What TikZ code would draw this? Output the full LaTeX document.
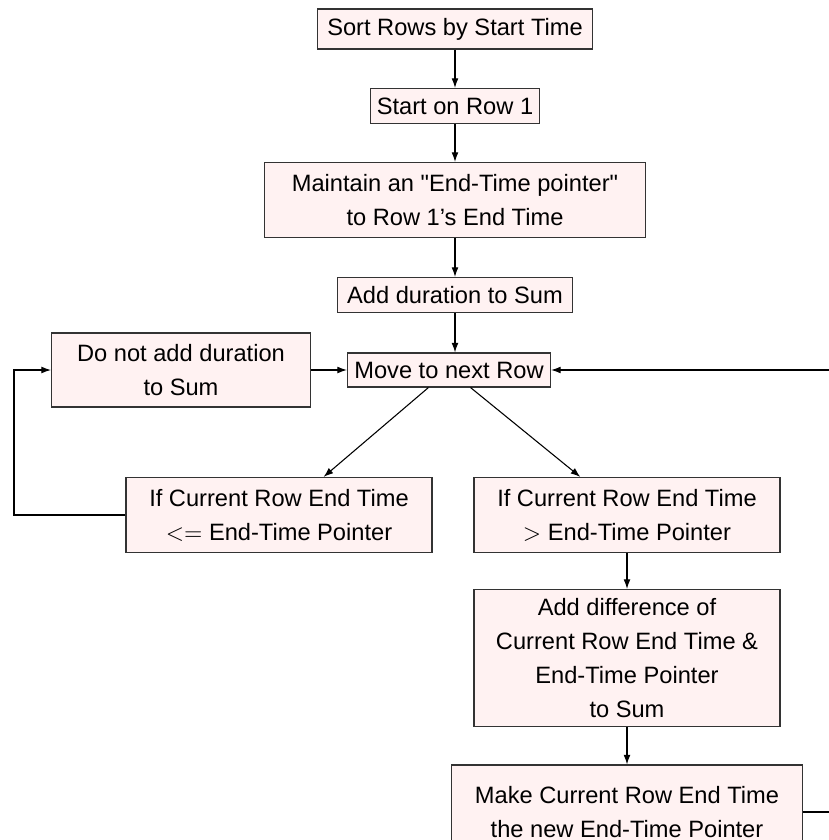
\documentclass[tikz,border=0pt]{standalone}
\usepackage{fontspec}
\setmainfont{Liberation Sans}
\usetikzlibrary{arrows.meta}

\begin{document}
\begin{tikzpicture}[
  x=0.465pt,
  y=-0.465pt,
  font=\fontsize{11}{15.8}\selectfont,
  stepbox/.style={draw=black!80, line width=0.5pt, fill=red!5, align=center, inner sep=2pt},
  arr/.style={-{Latex[length=4.5pt,width=3.2pt]}, line width=0.5pt}
]
\clip (0,0) rectangle (829,840);

% main column
\node[stepbox, minimum width=128.3pt, minimum height=18.6pt] (sort) at (455,29) {Sort Rows by Start Time};
\node[stepbox, minimum width=79pt, minimum height=16.3pt] (start) at (455,106) {Start on Row 1};
\node[stepbox, minimum width=177.2pt, minimum height=34.9pt] (keep) at (455,200) {Maintain an \textquotedbl End-Time pointer\textquotedbl\\to Row 1's End Time};
\node[stepbox, minimum width=109.3pt, minimum height=16.3pt] (addsum) at (455,295) {Add duration to Sum};
\node[stepbox, minimum width=94.4pt, minimum height=15.8pt] (move) at (449,370) {Move to next Row};

% left branch
\node[stepbox, minimum width=120.4pt, minimum height=34.4pt] (skip) at (181,370) {Do not add duration\\to Sum};
\node[stepbox, minimum width=142.3pt, minimum height=34.9pt] (condle) at (279,515) {If Current Row End Time\\$<=$ End-Time Pointer};

% right branch
\node[stepbox, minimum width=142.3pt, minimum height=34.9pt] (condgt) at (627,515) {If Current Row End Time\\$>$ End-Time Pointer};
\node[stepbox, minimum width=142.3pt, minimum height=63.7pt] (diff) at (627,658) {Add difference of\\Current Row End Time \&\\End-Time Pointer\\to Sum};
\node[stepbox, minimum width=162.8pt, minimum height=43.7pt] (newptr) at (627,812) {Make Current Row End Time\\the new End-Time Pointer};

\coordinate (loopl) at (14,370);
\coordinate (loopr) at (850,370);

\draw[arr] (sort) -- (start);
\draw[arr] (start) -- (keep);
\draw[arr] (keep) -- (addsum);
\draw[arr] (addsum.south) -- (addsum.south |- move.north);
\draw[arr] (move) -- (condle);
\draw[arr] (move) -- (condgt);
\draw[arr] (condgt) -- (diff);
\draw[arr] (diff) -- (newptr);
\draw[arr] (skip) -- (move);
\draw[arr] (condle.west) -| (loopl) -- (skip.west);
\draw[arr] (newptr.east) -| (loopr) -- (move.east);
\end{tikzpicture}
\end{document}
